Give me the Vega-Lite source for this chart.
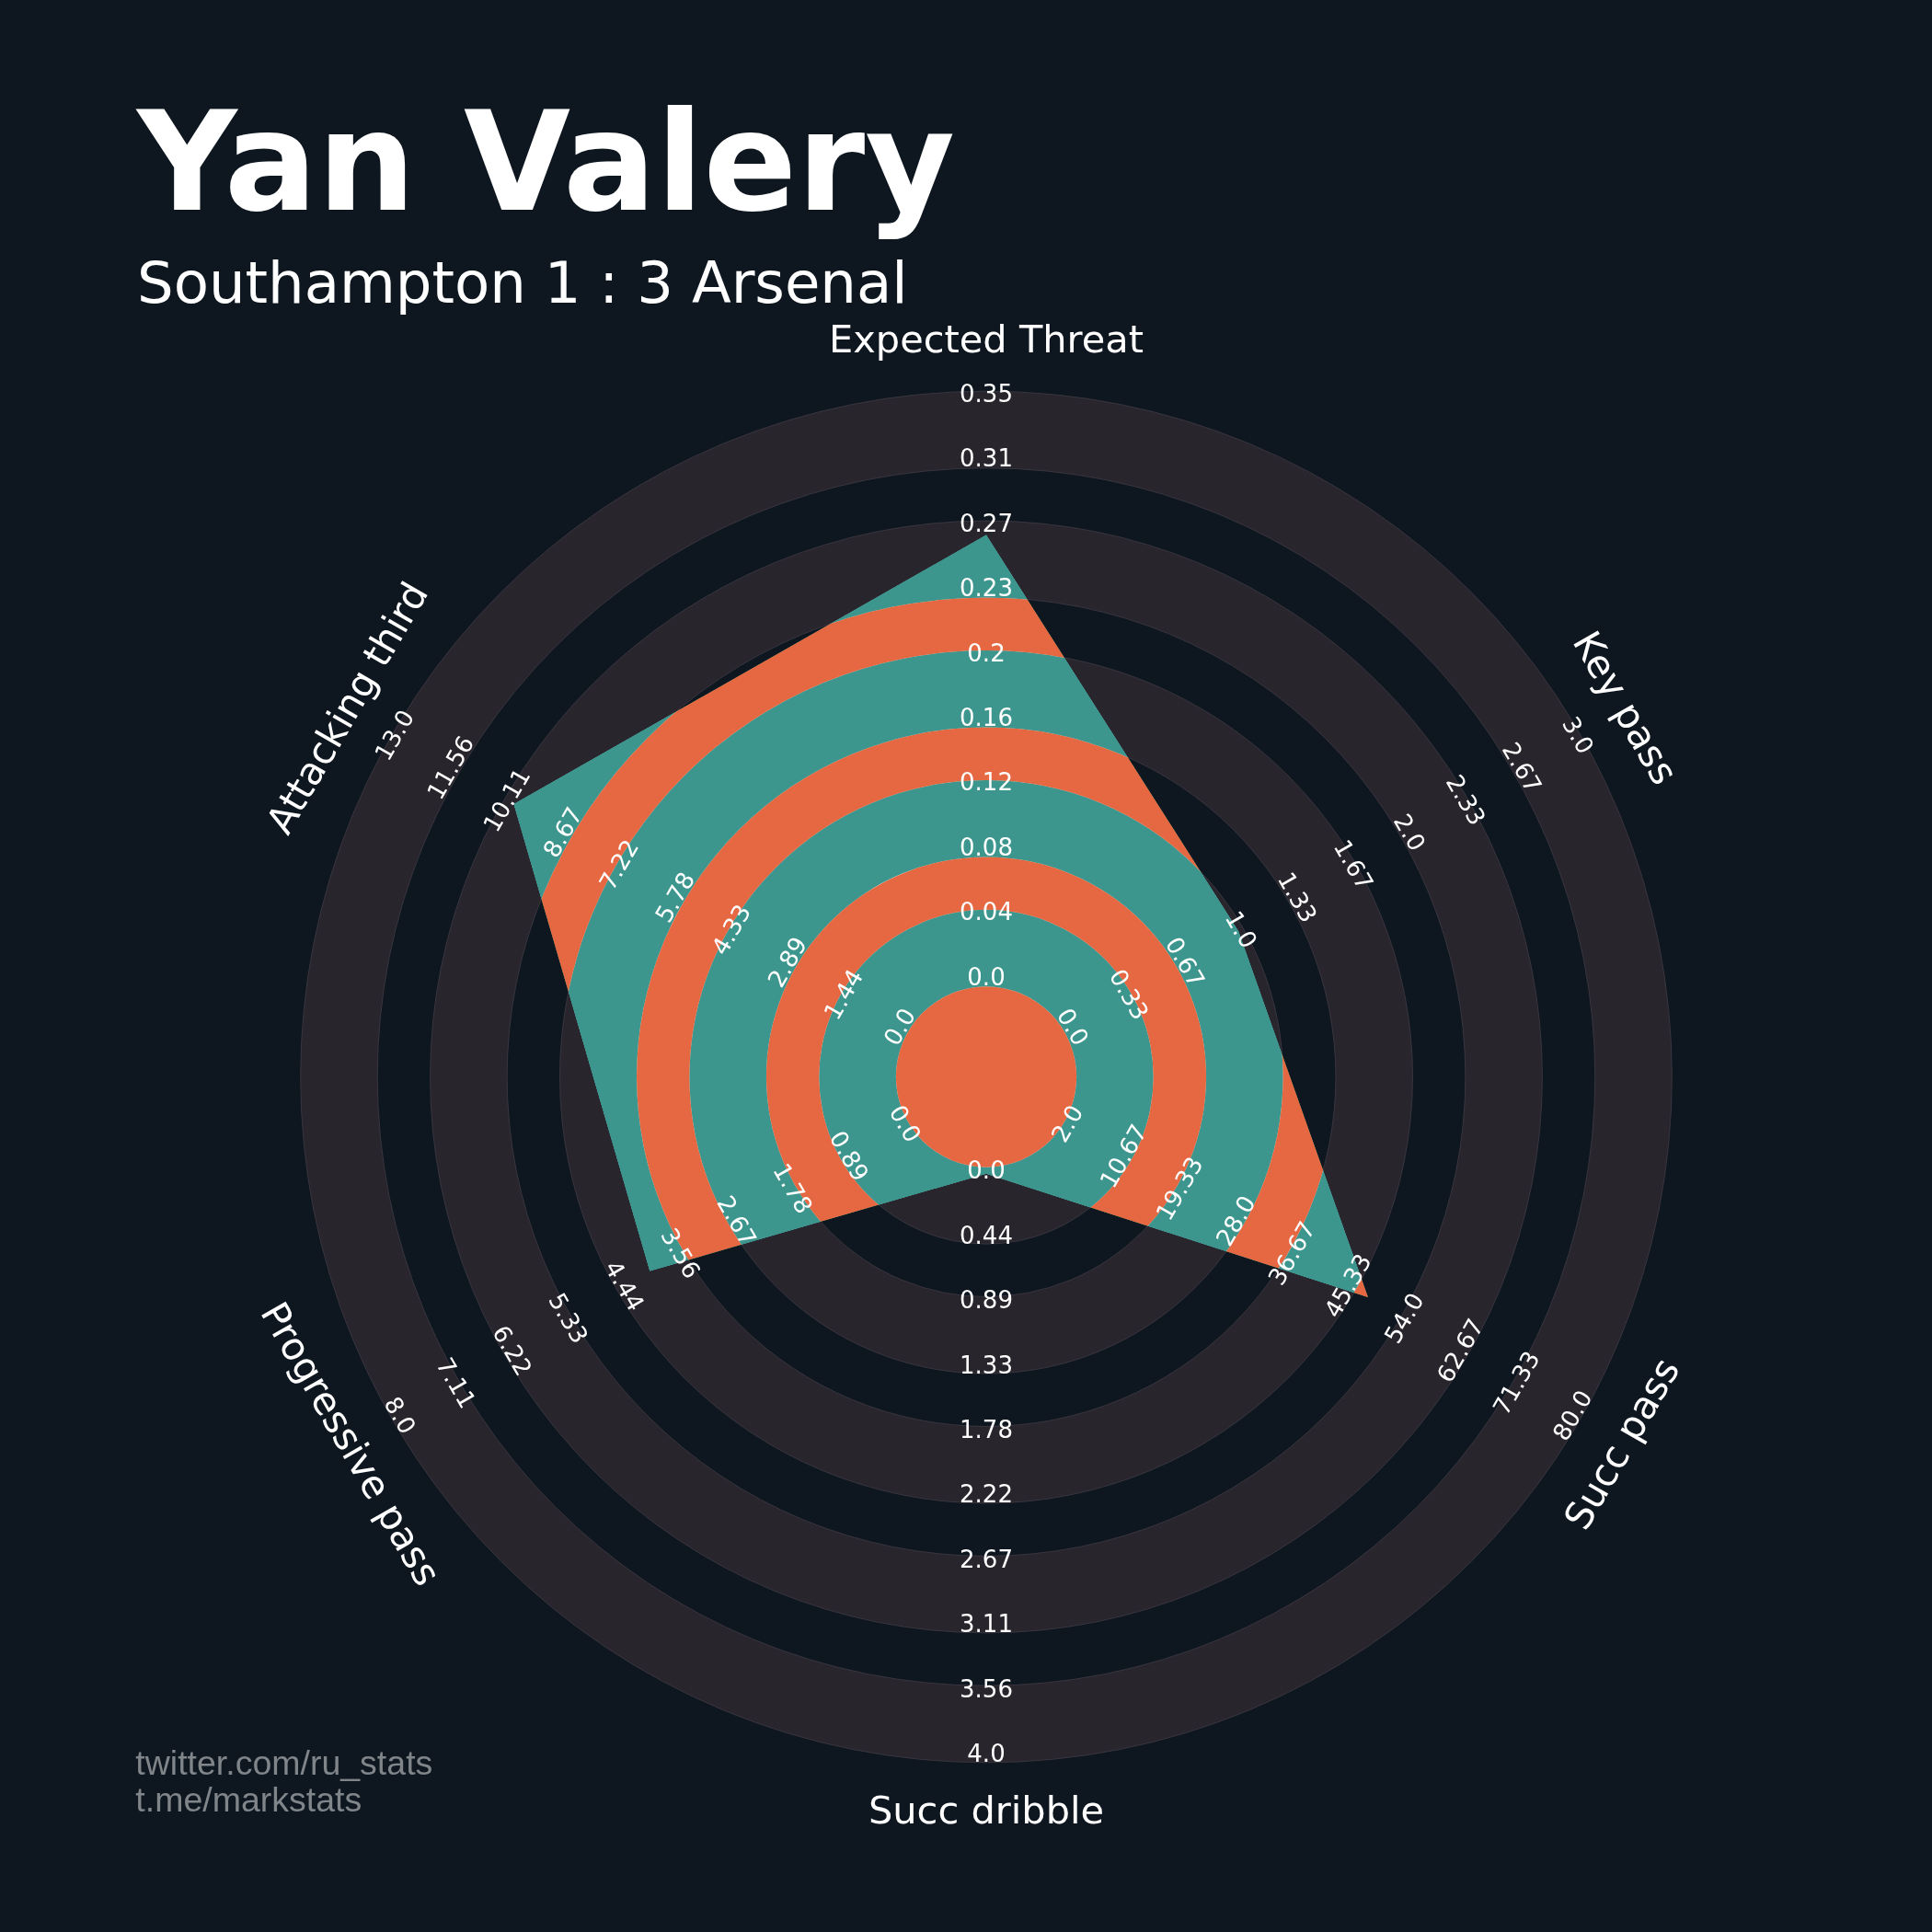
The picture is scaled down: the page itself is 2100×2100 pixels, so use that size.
{
  "$schema": "https://vega.github.io/schema/vega-lite/v6.json",
  "width": 1700,
  "height": 1700,
  "autosize": {"type": "none"},
  "padding": {"left": 222, "top": 320.5, "right": 178, "bottom": 79.5},
  "background": "#0e1720",
  "config": {"view": {"stroke": null}, "font": "DejaVu Sans"},
  "title": {
    "text": "Yan Valery",
    "subtitle": "Southampton 1 : 3 Arsenal",
    "anchor": "start",
    "frame": "group",
    "font": "DejaVu Sans",
    "fontSize": 150,
    "fontWeight": "bold",
    "color": "#ffffff",
    "subtitleFont": "DejaVu Sans",
    "subtitleFontSize": 62.5,
    "subtitleColor": "#ffffff",
    "subtitlePadding": 21,
    "offset": -22,
    "dx": -73
  },
  "datasets": {
    "stats": [
      {"param": "Expected Threat", "axis": 0, "value": 0.267, "lo": 0, "hi": 0.35},
      {"param": "Key pass", "axis": 1, "value": 1, "lo": 0, "hi": 3},
      {"param": "Succ pass", "axis": 2, "value": 48, "lo": 2, "hi": 80},
      {"param": "Succ dribble", "axis": 3, "value": 0, "lo": 0, "hi": 4},
      {"param": "Progressive pass", "axis": 4, "value": 4, "lo": 0, "hi": 8},
      {"param": "Attacking third", "axis": 5, "value": 10, "lo": 0, "hi": 13}
    ],
    "rings": [
      {"kind": "B", "k0": -1.4933, "k1": -0.1},
      {"kind": "A", "k0": -0.1, "k1": 1.085},
      {"kind": "B", "k0": 1.085, "k1": 1.9},
      {"kind": "A", "k0": 1.9, "k1": 3.085},
      {"kind": "B", "k0": 3.085, "k1": 3.9},
      {"kind": "A", "k0": 3.9, "k1": 5.085},
      {"kind": "B", "k0": 5.085, "k1": 5.9},
      {"kind": "A", "k0": 5.9, "k1": 7.085},
      {"kind": "B", "k0": 7.085, "k1": 7.9},
      {"kind": "A", "k0": 7.9, "k1": 9.085}
    ],
    "ticks": [
      {"axis": 0, "k": 0, "label": "0.0"}, {"axis": 0, "k": 1, "label": "0.04"}, {"axis": 0, "k": 2, "label": "0.08"}, {"axis": 0, "k": 3, "label": "0.12"}, {"axis": 0, "k": 4, "label": "0.16"},
      {"axis": 0, "k": 5, "label": "0.2"}, {"axis": 0, "k": 6, "label": "0.23"}, {"axis": 0, "k": 7, "label": "0.27"}, {"axis": 0, "k": 8, "label": "0.31"}, {"axis": 0, "k": 9, "label": "0.35"},
      {"axis": 1, "k": 0, "label": "0.0"}, {"axis": 1, "k": 1, "label": "0.33"}, {"axis": 1, "k": 2, "label": "0.67"}, {"axis": 1, "k": 3, "label": "1.0"}, {"axis": 1, "k": 4, "label": "1.33"},
      {"axis": 1, "k": 5, "label": "1.67"}, {"axis": 1, "k": 6, "label": "2.0"}, {"axis": 1, "k": 7, "label": "2.33"}, {"axis": 1, "k": 8, "label": "2.67"}, {"axis": 1, "k": 9, "label": "3.0"},
      {"axis": 2, "k": 0, "label": "2.0"}, {"axis": 2, "k": 1, "label": "10.67"}, {"axis": 2, "k": 2, "label": "19.33"}, {"axis": 2, "k": 3, "label": "28.0"}, {"axis": 2, "k": 4, "label": "36.67"},
      {"axis": 2, "k": 5, "label": "45.33"}, {"axis": 2, "k": 6, "label": "54.0"}, {"axis": 2, "k": 7, "label": "62.67"}, {"axis": 2, "k": 8, "label": "71.33"}, {"axis": 2, "k": 9, "label": "80.0"},
      {"axis": 3, "k": 0, "label": "0.0"}, {"axis": 3, "k": 1, "label": "0.44"}, {"axis": 3, "k": 2, "label": "0.89"}, {"axis": 3, "k": 3, "label": "1.33"}, {"axis": 3, "k": 4, "label": "1.78"},
      {"axis": 3, "k": 5, "label": "2.22"}, {"axis": 3, "k": 6, "label": "2.67"}, {"axis": 3, "k": 7, "label": "3.11"}, {"axis": 3, "k": 8, "label": "3.56"}, {"axis": 3, "k": 9, "label": "4.0"},
      {"axis": 4, "k": 0, "label": "0.0"}, {"axis": 4, "k": 1, "label": "0.89"}, {"axis": 4, "k": 2, "label": "1.78"}, {"axis": 4, "k": 3, "label": "2.67"}, {"axis": 4, "k": 4, "label": "3.56"},
      {"axis": 4, "k": 5, "label": "4.44"}, {"axis": 4, "k": 6, "label": "5.33"}, {"axis": 4, "k": 7, "label": "6.22"}, {"axis": 4, "k": 8, "label": "7.11"}, {"axis": 4, "k": 9, "label": "8.0"},
      {"axis": 5, "k": 0, "label": "0.0"}, {"axis": 5, "k": 1, "label": "1.44"}, {"axis": 5, "k": 2, "label": "2.89"}, {"axis": 5, "k": 3, "label": "4.33"}, {"axis": 5, "k": 4, "label": "5.78"},
      {"axis": 5, "k": 5, "label": "7.22"}, {"axis": 5, "k": 6, "label": "8.67"}, {"axis": 5, "k": 7, "label": "10.11"}, {"axis": 5, "k": 8, "label": "11.56"}, {"axis": 5, "k": 9, "label": "13.0"}
    ]
  },
  "layer": [
    {
      "data": {"name": "rings"},
      "transform": [{"filter": "datum.kind == 'A'"}],
      "mark": {"type": "arc", "theta": 0, "theta2": 6.2832, "fill": "#28252c", "stroke": "#39353f", "strokeWidth": 1},
      "encoding": {
        "radius": {"field": "k1", "type": "quantitative", "scale": {"type": "linear", "domain": [-1.4933, 9], "range": [0, 739.3], "zero": false, "nice": false}},
        "radius2": {"field": "k0"}
      }
    },
    {
      "data": {"name": "stats"},
      "transform": [
        {"calculate": "9 * (datum.value - datum.lo) / (datum.hi - datum.lo) + 1.4933", "as": "u"},
        {"calculate": "datum.u * sin(datum.axis * PI / 3)", "as": "px"},
        {"calculate": "datum.u * cos(datum.axis * PI / 3)", "as": "py"}
      ],
      "mark": {"type": "line", "interpolate": "linear-closed", "filled": true, "color": "#ffffff", "fill": "#ffffff", "strokeWidth": 0},
      "encoding": {
        "x": {
          "field": "px", "type": "quantitative",
          "scale": {"domain": [-12.0653, 12.0653], "nice": false, "zero": false},
          "axis": {
            "orient": "bottom", "domain": false, "ticks": false, "labels": false, "grid": false,
            "title": ["twitter.com/ru_stats", "t.me/markstats"],
            "titleAnchor": "start", "titleAlign": "left", "titleBaseline": "alphabetic",
            "titleX": -75.2, "titleY": -92.2, "titleAngle": 0,
            "titleFont": "Liberation Sans", "titleFontSize": 37.5, "titleFontWeight": "normal",
            "titleColor": "#80858a", "titleLineHeight": 40.4
          }
        },
        "y": {"field": "py", "type": "quantitative", "scale": {"domain": [-12.0653, 12.0653], "nice": false, "zero": false}, "axis": null},
        "order": {"field": "axis", "type": "quantitative"}
      }
    },
    {
      "data": {"name": "rings"},
      "transform": [{"filter": "datum.kind == 'A'"}],
      "mark": {"type": "arc", "theta": 0, "theta2": 6.2832, "fill": "#3d968e", "blend": "darken"},
      "encoding": {
        "radius": {"field": "k1", "type": "quantitative", "scale": {"type": "linear", "domain": [-1.4933, 9], "range": [0, 739.3], "zero": false, "nice": false}},
        "radius2": {"field": "k0"}
      }
    },
    {
      "data": {"name": "rings"},
      "transform": [{"filter": "datum.kind == 'B'"}],
      "mark": {"type": "arc", "theta": 0, "theta2": 6.2832, "fill": "#e66842", "blend": "darken"},
      "encoding": {
        "radius": {"field": "k1", "type": "quantitative", "scale": {"type": "linear", "domain": [-1.4933, 9], "range": [0, 739.3], "zero": false, "nice": false}},
        "radius2": {"field": "k0"}
      }
    },
    {
      "data": {"name": "ticks"},
      "mark": {"type": "text", "font": "DejaVu Sans", "fontSize": 26, "color": "#ffffff", "align": "center", "baseline": "middle", "dy": -2.5},
      "encoding": {
        "theta": {"field": "axis", "type": "quantitative", "stack": null, "scale": {"domain": [0, 6], "range": [0, 6.283185307179586]}},
        "radius": {"field": "k", "type": "quantitative", "scale": {"type": "linear", "domain": [-1.4933, 9], "range": [0, 739.3], "zero": false, "nice": false}},
        "text": {"field": "label"},
        "angle": {"condition": [{"test": "datum.axis == 1 || datum.axis == 4", "value": 60}, {"test": "datum.axis == 2 || datum.axis == 5", "value": 300}], "value": 0}
      }
    },
    {
      "data": {"name": "stats"},
      "mark": {"type": "text", "font": "DejaVu Sans", "fontSize": 41.5, "color": "#ffffff", "align": "center", "baseline": "middle"},
      "encoding": {
        "theta": {"field": "axis", "type": "quantitative", "stack": null, "scale": {"domain": [0, 6], "range": [0, 6.283185307179586]}},
        "radius": {"datum": 9.86, "type": "quantitative", "scale": {"type": "linear", "domain": [-1.4933, 9], "range": [0, 739.3], "zero": false, "nice": false}},
        "text": {"field": "param"},
        "angle": {"condition": [{"test": "datum.axis == 1 || datum.axis == 4", "value": 60}, {"test": "datum.axis == 2 || datum.axis == 5", "value": 300}], "value": 0}
      }
    }
  ]
}
